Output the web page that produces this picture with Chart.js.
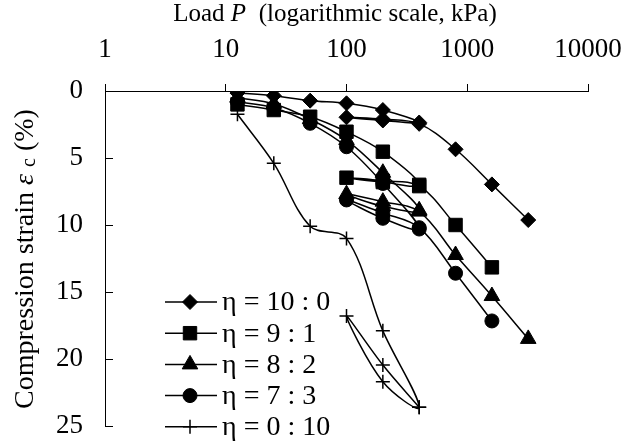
<!DOCTYPE html>
<html>
<head>
<meta charset="utf-8">
<script src="https://cdn.jsdelivr.net/npm/chart.js@4.4.0/dist/chart.umd.min.js"></script>
<style>
  html, body { margin: 0; padding: 0; background: #fff; }
  #wrap { width: 624px; height: 445px; }
</style>
</head>
<body>
<div id="wrap"><canvas id="chart" width="624" height="445"></canvas></div>
<script>
// axis ticks
const loadTicks = [1, 10, 100, 1000, 10000];
const strainTicks = [0, 5, 10, 15, 20, 25];

// series (load steps in kPa, strain in %), incl. unload / reload loops
const seriesNames = ["η = 10 : 0", "η = 9 : 1", "η = 8 : 2", "η = 7 : 3", "η = 0 : 10"];
const seriesMarkers = ["rectRot", "rect", "triangle", "circle", "cross"];

const load10_0 = [12.5, 25, 50, 100, 200, 400, 200, 100, 200, 400, 800, 1600, 3200];
const strain10_0 = [0.15, 0.35, 0.72, 0.92, 1.42, 2.35, 2.2, 1.96, 2.1, 2.45, 4.35, 6.97, 9.63];

const load9_1 = [12.5, 25, 50, 100, 200, 400, 200, 100, 200, 400, 800, 1600];
const strain9_1 = [1.0, 1.42, 1.92, 3.04, 4.53, 7.0, 6.8, 6.47, 6.7, 7.1, 10.0, 13.16];

const load8_2 = [12.5, 25, 50, 100, 200, 400, 200, 100, 200, 400, 800, 1600, 3200];
const strain8_2 = [0.5, 0.95, 2.1, 3.66, 6.1, 8.9, 8.6, 7.7, 8.26, 9.0, 12.24, 15.3, 18.5];

const load7_3 = [12.5, 25, 50, 100, 200, 400, 200, 100, 200, 400, 800, 1600];
const strain7_3 = [0.8, 1.25, 2.41, 4.16, 6.9, 10.3, 9.5, 8.13, 9.1, 10.2, 13.6, 17.16];

const load0_10 = [12.5, 25, 50, 100, 200, 400, 200, 100, 200, 400];
const strain0_10 = [1.74, 5.4, 10.1, 11.0, 17.9, 23.6, 21.7, 16.8, 20.45, 23.6];

const SERIF = "'Liberation Serif', 'Times New Roman', serif";
const markerRadius = { rectRot: 7.5, rect: 9.5, triangle: 9, circle: 7, cross: 7 };

const allLoads = [load10_0, load9_1, load8_2, load7_3, load0_10];
const allStrains = [strain10_0, strain9_1, strain8_2, strain7_3, strain0_10];

const datasets = seriesNames.map((name, i) => ({
  label: name,
  data: allLoads[i].map((x, j) => ({ x: x, y: allStrains[i][j] })),
  showLine: true,
  tension: 0.35,
  borderColor: "#000",
  backgroundColor: "#000",
  borderWidth: 1.5,
  pointStyle: seriesMarkers[i],
  pointRadius: markerRadius[seriesMarkers[i]],
  pointBorderWidth: seriesMarkers[i] === "cross" ? 1.5 : 1,
  pointBackgroundColor: "#000",
  pointBorderColor: "#000",
  order: 4 - i
}));

// draws a line of text made of parts with their own fonts, centred on cx
function drawRich(ctx, parts, cx, baseY) {
  let total = 0;
  parts.forEach(p => { ctx.font = p.font; total += ctx.measureText(p.text).width; });
  let x = cx - total / 2;
  ctx.textAlign = "left";
  ctx.textBaseline = "alphabetic";
  parts.forEach(p => {
    ctx.font = p.font;
    ctx.fillText(p.text, x, baseY + (p.dy || 0));
    x += ctx.measureText(p.text).width;
  });
}

const extras = {
  id: "extras",
  afterDraw(chart) {
    const ctx = chart.ctx;
    const area = chart.chartArea;
    const yScale = chart.scales.y;
    ctx.save();
    ctx.fillStyle = "#000";
    ctx.strokeStyle = "#000";
    ctx.lineWidth = 1;

    // strain axis ticks point into the plot
    strainTicks.forEach(v => {
      const py = Math.round(yScale.getPixelForValue(v)) + 0.5;
      ctx.beginPath();
      ctx.moveTo(area.left, py);
      ctx.lineTo(area.left + 8, py);
      ctx.stroke();
    });

    // axis titles
    drawRich(ctx, [
      { text: "Load ", font: "25px " + SERIF },
      { text: "P", font: "italic 25px " + SERIF },
      { text: "  (logarithmic scale, kPa)", font: "25px " + SERIF }
    ], 335, 21);

    const f = "28px " + SERIF;
    ctx.save();
    ctx.translate(33, 259);
    ctx.rotate(-Math.PI / 2);
    drawRich(ctx, [
      { text: "Compression strain ", font: f },
      { text: "ε", font: "italic " + f },
      { text: " ", font: f },
      { text: "c", font: "20px " + SERIF, dy: 2 },
      { text: " (%)", font: f }
    ], 0, 0);
    ctx.restore();

    // legend inside the plot, lower left
    seriesNames.forEach((name, i) => {
      const ry = 302 + i * 31.2;
      ctx.lineWidth = 1.5;
      ctx.beginPath();
      ctx.moveTo(165, ry);
      ctx.lineTo(217, ry);
      ctx.stroke();
      ctx.lineWidth = seriesMarkers[i] === "cross" ? 1.5 : 1;
      Chart.helpers.drawPoint(ctx, {
        pointStyle: seriesMarkers[i],
        radius: markerRadius[seriesMarkers[i]],
        rotation: 0,
        borderWidth: ctx.lineWidth
      }, 190, ry);
      ctx.font = "28px " + SERIF;
      ctx.textAlign = "left";
      ctx.textBaseline = "middle";
      ctx.fillText(name, 222, ry + 1);
    });
    ctx.restore();
  }
};

new Chart(document.getElementById("chart"), {
  type: "scatter",
  data: { datasets: datasets },
  options: {
    responsive: false,
    animation: false,
    devicePixelRatio: 1,
    layout: { padding: { left: 0, top: 0, right: 36, bottom: 19 } },
    plugins: { legend: { display: false }, tooltip: { enabled: false } },
    scales: {
      x: {
        type: "logarithmic",
        position: "top",
        min: 1,
        max: 10000,
        afterBuildTicks: s => { s.ticks = loadTicks.map(v => ({ value: v })); },
        afterFit: s => { s.height = 91; s.paddingLeft = 0; s.paddingRight = 0; },
        ticks: {
          font: { family: SERIF, size: 27 },
          color: "#000",
          padding: 18,
          autoSkip: false,
          maxRotation: 0,
          callback: v => String(v)
        },
        grid: { display: true, drawOnChartArea: false, drawTicks: true, tickLength: 7, color: "#000", lineWidth: 1 },
        border: { display: true, color: "#000", width: 1 }
      },
      y: {
        type: "linear",
        reverse: true,
        min: 0,
        max: 25,
        afterBuildTicks: s => { s.ticks = strainTicks.map(v => ({ value: v })); },
        afterFit: s => { s.width = 105; s.paddingTop = 0; s.paddingBottom = 0; },
        ticks: { font: { family: SERIF, size: 27 }, color: "#000", padding: 22 },
        grid: { display: false, drawTicks: false },
        border: { display: true, color: "#000", width: 1 }
      }
    }
  },
  plugins: [extras]
});
</script>
</body>
</html>
